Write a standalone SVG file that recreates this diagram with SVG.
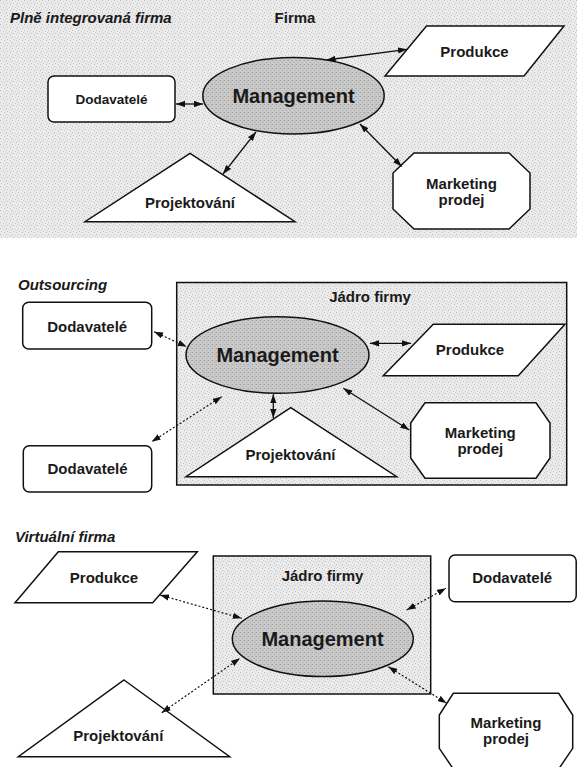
<svg xmlns="http://www.w3.org/2000/svg" width="577" height="767" viewBox="0 0 577 767">
<defs>
<pattern id="tex" width="6" height="6" patternUnits="userSpaceOnUse">
<rect width="6" height="6" fill="#ebebeb"/>
<rect x="0" y="0" width="1" height="1" fill="#bcbcbc"/>
<rect x="3" y="1" width="1" height="1" fill="#c8c8c8"/>
<rect x="1" y="3" width="1" height="1" fill="#c4c4c4"/>
<rect x="4" y="4" width="1" height="1" fill="#bdbdbd"/>
<rect x="5" y="2" width="1" height="1" fill="#d0d0d0"/>
</pattern>
<pattern id="dark" width="4" height="4" patternUnits="userSpaceOnUse">
<rect width="4" height="4" fill="#cacaca"/>
<rect x="0" y="0" width="1" height="1" fill="#9e9e9e"/>
<rect x="2" y="2" width="1" height="1" fill="#a6a6a6"/>
<rect x="3" y="0" width="1" height="1" fill="#b4b4b4"/>
</pattern>
<marker id="ah" viewBox="0 0 10 7" refX="10" refY="3.5" markerWidth="9" markerHeight="6.5" markerUnits="userSpaceOnUse" orient="auto-start-reverse">
<path d="M0,0 L10,3.5 L0,7 z" fill="#111"/>
</marker>
</defs>
<style>
.shape{fill:#fff;stroke:#111;stroke-width:1.5}
.ell{fill:url(#dark);stroke:#111;stroke-width:1.5}
.core{fill:url(#tex);stroke:#111;stroke-width:1.5}
.t{font-family:"Liberation Sans",Arial,sans-serif;font-weight:bold;fill:#1a1a1a;text-anchor:middle}
.n{font-size:15px}
.m{font-size:20px}
.title{font-family:"Liberation Sans",Arial,sans-serif;font-weight:bold;font-style:italic;font-size:15px;fill:#1a1a1a}
.solid{stroke:#111;stroke-width:1.3;fill:none;marker-start:url(#ah);marker-end:url(#ah)}
.dot{stroke:#111;stroke-width:1.2;fill:none;stroke-dasharray:2 2;marker-start:url(#ah);marker-end:url(#ah)}
</style>

<!-- Section 1: Plně integrovaná firma -->
<rect x="0" y="0" width="577" height="238" fill="url(#tex)"/>
<text class="title" x="10" y="23">Plně integrovaná firma</text>
<text class="t n" x="295" y="23">Firma</text>

<g id="s1-management">
<ellipse class="ell" cx="293.5" cy="95.7" rx="90.7" ry="38.3"/>
<text class="t m" x="293.5" y="103">Management</text>
</g>
<g id="s1-dodavatele">
<rect class="shape" x="48" y="76" width="127" height="46" rx="6"/>
<text class="t" style="font-size:13.5px" x="111.5" y="104">Dodavatelé</text>
</g>
<g id="s1-produkce">
<polygon class="shape" points="426.5,26 564,26 524,76 385,76"/>
<text class="t n" x="474.5" y="56.5">Produkce</text>
</g>
<g id="s1-projektovani">
<polygon class="shape" points="190,153.3 295,221.7 85,221.7"/>
<text class="t n" x="190" y="208">Projektování</text>
</g>
<g id="s1-marketing">
<polygon class="shape" points="414,153 509,153 530,173 530,209 509,229 414,229 393,209 393,173"/>
<text class="t n" x="461.5" y="189">Marketing</text>
<text class="t n" x="461.5" y="205">prodej</text>
</g>
<g id="s1-connectors">
<line class="solid" x1="176" y1="104" x2="203" y2="104"/>
<line class="solid" x1="326.7" y1="60" x2="407" y2="49.3"/>
<line class="solid" x1="256" y1="132" x2="223" y2="174"/>
<line class="solid" x1="360" y1="124" x2="401.7" y2="166.5"/>
</g>

<!-- Section 2: Outsourcing -->
<text class="title" x="18" y="290">Outsourcing</text>
<g id="s2-core">
<rect class="core" x="176.7" y="282.5" width="390" height="202.5"/>
<text class="t n" x="370" y="301.7">Jádro firmy</text>
</g>
<g id="s2-management">
<ellipse class="ell" cx="277.5" cy="355" rx="91.5" ry="38.3"/>
<text class="t m" x="277.5" y="362.3">Management</text>
</g>
<g id="s2-dodavatele1">
<rect class="shape" x="22.7" y="302.3" width="129" height="46.7" rx="6"/>
<text class="t n" x="87.2" y="331.7">Dodavatelé</text>
</g>
<g id="s2-dodavatele2">
<rect class="shape" x="23.3" y="445.7" width="128.4" height="46.3" rx="6"/>
<text class="t n" x="87.5" y="474">Dodavatelé</text>
</g>
<g id="s2-produkce">
<polygon class="shape" points="433.3,324.3 565,324.3 518.3,375.7 383.3,375.7"/>
<text class="t n" x="470" y="355">Produkce</text>
</g>
<g id="s2-projektovani">
<polygon class="shape" points="290.7,407.7 396.7,476.7 186,476.7"/>
<text class="t n" x="290.5" y="460">Projektování</text>
</g>
<g id="s2-marketing">
<polygon class="shape" points="425,402.7 536,402.7 550,423 550,458 536,478.3 425,478.3 410.7,458 410.7,423"/>
<text class="t n" x="480.3" y="438.3">Marketing</text>
<text class="t n" x="480.3" y="454">prodej</text>
</g>
<g id="s2-connectors">
<line class="dot" x1="154" y1="331.7" x2="186.7" y2="346.7"/>
<line class="dot" x1="221.7" y1="396.7" x2="151.7" y2="441.7"/>
<line class="solid" x1="370" y1="343.3" x2="411" y2="343.3"/>
<line class="solid" x1="273.3" y1="394.3" x2="273.3" y2="418"/>
<line class="solid" x1="343.3" y1="388.3" x2="409.3" y2="430"/>
</g>

<!-- Section 3: Virtuální firma -->
<text class="title" x="15" y="542">Virtuální firma</text>
<g id="s3-core">
<rect class="core" x="213.3" y="556" width="217.4" height="138"/>
<text class="t n" x="322.5" y="580.7">Jádro firmy</text>
</g>
<g id="s3-management">
<ellipse class="ell" cx="322.8" cy="638.8" rx="90.5" ry="37.8"/>
<text class="t m" x="322.5" y="646">Management</text>
</g>
<g id="s3-produkce">
<polygon class="shape" points="58.3,551.7 197.3,551.7 152.7,602.7 15,602.7"/>
<text class="t n" x="104" y="582.7">Produkce</text>
</g>
<g id="s3-projektovani">
<polygon class="shape" points="124,680 229.7,756.7 18.3,756.7"/>
<text class="t n" x="118.3" y="741">Projektování</text>
</g>
<g id="s3-dodavatele">
<rect class="shape" x="449" y="555" width="127.2" height="46.7" rx="6"/>
<text class="t n" x="512.2" y="582.7">Dodavatelé</text>
</g>
<g id="s3-marketing">
<polygon class="shape" points="453.3,693.3 558.7,693.3 572.7,715 572.7,748.3 558.7,769 453.3,769 439.3,748.3 439.3,715"/>
<text class="t n" x="506" y="727.7">Marketing</text>
<text class="t n" x="506" y="744">prodej</text>
</g>
<g id="s3-connectors">
<line class="dot" x1="160" y1="595" x2="241.7" y2="618.3"/>
<line class="dot" x1="161.7" y1="712.7" x2="240" y2="658.3"/>
<line class="dot" x1="406.7" y1="610" x2="446" y2="588.3"/>
<line class="dot" x1="388.3" y1="666.7" x2="446.7" y2="703.3"/>
</g>
</svg>
